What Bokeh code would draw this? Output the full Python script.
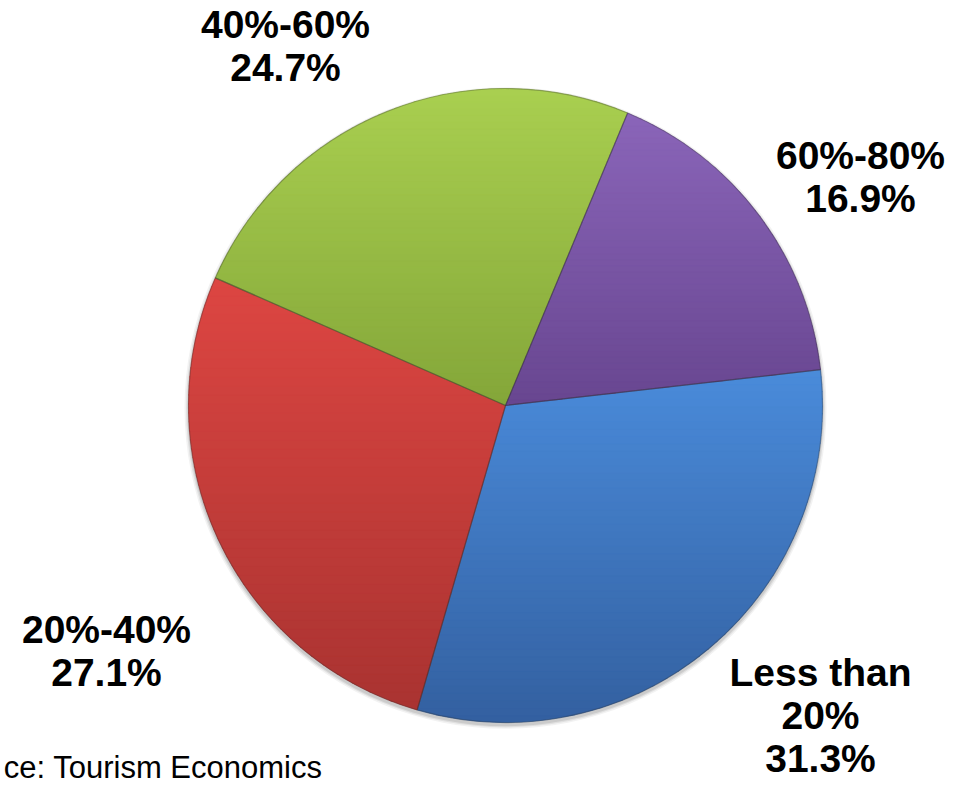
import numpy as np
from bokeh.plotting import figure
from bokeh.models import ColumnDataSource, Range1d
from bokeh.core.properties import value
from bokeh.embed import file_html
from bokeh.resources import INLINE

# ---- data ----
categories = ["Less than 20%", "20%-40%", "40%-60%", "60%-80%"]
display_names = ["Less than\n20%", "20%-40%", "40%-60%", "60%-80%"]
shares = [31.3, 27.1, 24.7, 16.9]
source_note = "ce: Tourism Economics"

# ---- style ----
top_colors = ["#4a8bda", "#dd4642", "#a9cf50", "#8a65b9"]
bottom_colors = ["#3360a0", "#a93331", "#84a639", "#684690"]
mid_colors = ["#3f76bd", "#c43d3a", "#97bb45", "#7956a5"]
START_DEG = 6.5
CX, CY, R = 505.0, 384.0, 317.0
# label anchor (centre x, top y of text block) in page coordinates (y up)
label_pos = [(820, 139), (106, 182), (285, 787), (860, 656)]

W, H = 967, 789
p = figure(width=W, height=H, x_range=Range1d(0, W), y_range=Range1d(0, H),
           output_backend="svg", toolbar_location=None, min_border=0,
           outline_line_color=None, background_fill_color="white",
           border_fill_color="white")
p.axis.visible = False
p.grid.visible = False

total = sum(shares)
starts, ends = [], []
acc = 0.0
for s in shares:
    a0 = np.deg2rad(START_DEG - acc / total * 360.0)
    acc += s
    a1 = np.deg2rad(START_DEG - acc / total * 360.0)
    starts.append(a0)
    ends.append(a1)

src = ColumnDataSource(dict(x=[CX] * 4, y=[CY] * 4, start=starts, end=ends,
                            color=mid_colors, cat=categories))

# soft shadow
for k, a in [(4, 0.05), (2.5, 0.07), (1.2, 0.09)]:
    p.circle(x=CX, y=CY - 2.5, radius=R + k, fill_color="black", fill_alpha=a,
             line_color=None)

p.wedge(x="x", y="y", radius=R, start_angle="start", end_angle="end",
        direction="clock", fill_color="color", line_color=None, source=src)


def clip(poly, y0, keep_above):
    out = []
    n = len(poly)
    for i in range(n):
        P = poly[i]
        Q = poly[(i + 1) % n]
        inP = P[1] >= y0 if keep_above else P[1] <= y0
        inQ = Q[1] >= y0 if keep_above else Q[1] <= y0
        if inP:
            out.append(P)
        if inP != inQ:
            t = (y0 - P[1]) / (Q[1] - P[1])
            out.append((P[0] + t * (Q[0] - P[0]), y0))
    return out


def hex2rgb(h):
    h = h.lstrip("#")
    return np.array([int(h[i:i + 2], 16) for i in (0, 2, 4)], dtype=float)


def rgb2hex(c):
    return "#%02x%02x%02x" % tuple(int(round(v)) for v in c)


xs, ys, cols = [], [], []
NB = 48
for i in range(len(shares)):
    th = np.linspace(starts[i], ends[i], 120)
    poly = [(CX, CY)] + [(CX + R * np.cos(t), CY + R * np.sin(t)) for t in th]
    ymin = min(q[1] for q in poly)
    ymax = max(q[1] for q in poly)
    h = (ymax - ymin) / NB
    ct, cb = hex2rgb(top_colors[i]), hex2rgb(bottom_colors[i])
    for k in range(NB):
        lo = ymin + k * h - 0.4
        hi = ymin + (k + 1) * h + 0.4
        band = clip(clip(poly, lo, True), hi, False)
        if len(band) < 3:
            continue
        t = (k + 0.5) / NB  # 0 at bottom -> 1 at top
        c = cb + (ct - cb) * t
        xs.append([q[0] for q in band])
        ys.append([q[1] for q in band])
        cols.append(rgb2hex(c))

p.patches(xs="xs", ys="ys", fill_color="cols", line_color="cols", line_width=0.5,
          source=ColumnDataSource(dict(xs=xs, ys=ys, cols=cols)))

# slice edges
p.wedge(x="x", y="y", radius=R, start_angle="start", end_angle="end",
        direction="clock", fill_alpha=0, line_color="#303030", line_alpha=0.3,
        line_width=1.2, source=src)

# labels
lab_src = ColumnDataSource(dict(
    x=[q[0] for q in label_pos], y=[q[1] for q in label_pos],
    text=[f"{n}\n{s:.1f}%" for n, s in zip(display_names, shares)]))
p.text(x="x", y="y", text="text", source=lab_src, text_align="center",
       text_baseline="top", text_font=value("Liberation Sans"),
       text_font_style="bold", text_font_size="39px", text_color="black",
       text_line_height=1.01)

p.text(x=[322], y=[22], text=[source_note], text_align="right",
       text_baseline="alphabetic", text_font=value("Liberation Sans"),
       text_font_size="31px", text_color="black")

open("out.html", "w").write(file_html(p, INLINE))
